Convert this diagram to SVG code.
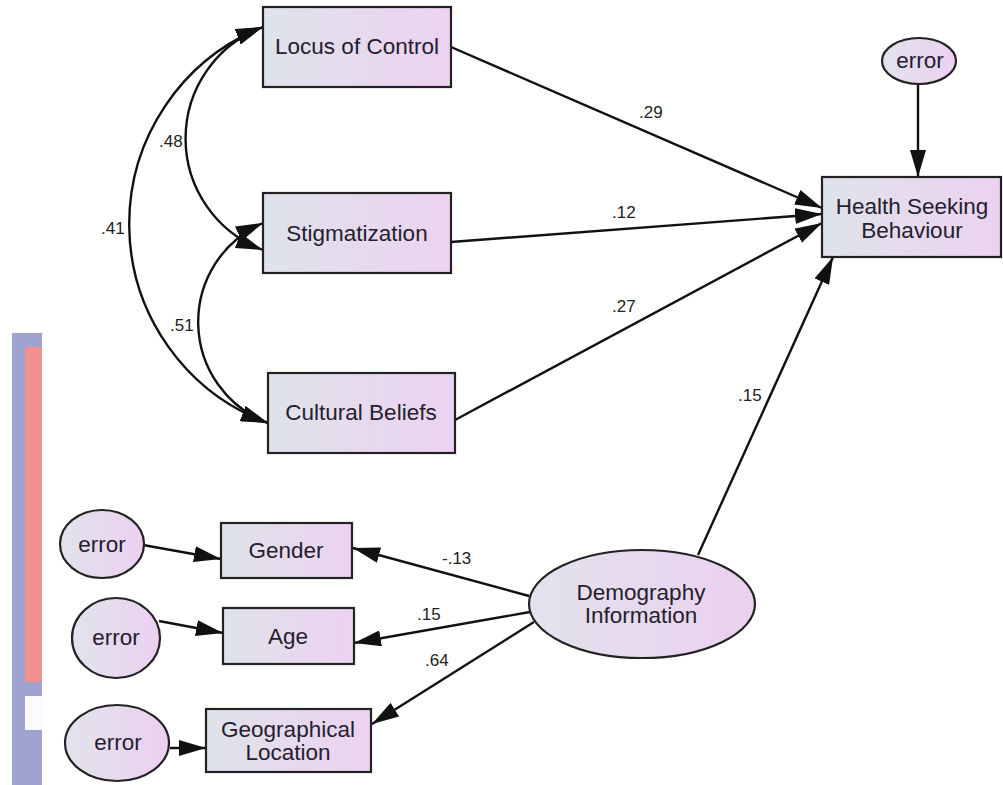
<svg xmlns="http://www.w3.org/2000/svg" width="1003" height="785" viewBox="0 0 1003 785">
<style>
.box{fill:url(#gb);stroke:#222;stroke-width:2.2}
.ell{fill:url(#ge);stroke:#222;stroke-width:2.2}
.lbl{font-family:"Liberation Sans",Arial,sans-serif;font-size:22.5px;fill:#24202e;text-anchor:middle}
.num{font-family:"Liberation Sans",Arial,sans-serif;font-size:17px;fill:#222}
.con path,.con line{fill:none;stroke:#111;stroke-width:2.4}
.arr{marker-end:url(#ah)}
.dbl{marker-start:url(#ah);marker-end:url(#ah)}
</style>
<defs>
<linearGradient id="gb" x1="0" y1="0" x2="1" y2="0">
<stop offset="0" stop-color="#dfe3ea"/>
<stop offset="1" stop-color="#ecd2f1"/>
</linearGradient>
<linearGradient id="ge" x1="0" y1="0" x2="1" y2="0">
<stop offset="0" stop-color="#e1e3ec"/>
<stop offset="1" stop-color="#ecd0f0"/>
</linearGradient>
<marker id="ah" markerUnits="userSpaceOnUse" markerWidth="28" markerHeight="16" refX="27" refY="8" orient="auto-start-reverse">
<path d="M0,0 L27,8 L0,16 Z" fill="#111"/>
</marker>
</defs>
<rect width="1003" height="785" fill="#fff"/>
<g id="background-strip">
<rect x="12" y="333" width="30" height="452" fill="#a0a3d0"/>
<rect x="25" y="347" width="17" height="335" fill="#f2918f"/>
<rect x="25" y="696" width="17" height="34" fill="#fbfbff"/>
</g>
<g id="connectors" class="con">
<path class="dbl" d="M263,27 A212,212 0 0 0 268,423"/>
<path class="dbl" d="M263,27 A119,119 0 0 0 263,250"/>
<path class="dbl" d="M263,223 A108,108 0 0 0 268,423"/>
<line class="arr" x1="451" y1="47" x2="822" y2="208"/>
<line class="arr" x1="451" y1="242" x2="822" y2="214"/>
<line class="arr" x1="455" y1="420" x2="822" y2="223"/>
<line class="arr" x1="698" y1="555" x2="833" y2="257"/>
<line class="arr" x1="918" y1="84" x2="918" y2="177"/>
<line class="arr" x1="529" y1="596" x2="353" y2="548"/>
<line class="arr" x1="530" y1="612" x2="354" y2="643"/>
<line class="arr" x1="534" y1="622" x2="372" y2="724"/>
<line class="arr" x1="143" y1="545" x2="221" y2="559"/>
<line class="arr" x1="159" y1="621" x2="223" y2="633"/>
<line class="arr" x1="170" y1="748" x2="206" y2="748"/>
<text class="num" x="159" y="147">.48</text>
<text class="num" x="101" y="234">.41</text>
<text class="num" x="170" y="331">.51</text>
<text class="num" x="639" y="118">.29</text>
<text class="num" x="612" y="218">.12</text>
<text class="num" x="612" y="312">.27</text>
<text class="num" x="738" y="401">.15</text>
<text class="num" x="442" y="564">-.13</text>
<text class="num" x="417" y="620">.15</text>
<text class="num" x="425" y="666">.64</text>
</g>
<g id="locus-of-control">
<rect class="box" x="263" y="7" width="188" height="80"/>
<text class="lbl" x="357" y="54">Locus of Control</text>
</g>
<g id="stigmatization">
<rect class="box" x="263" y="193" width="188" height="80"/>
<text class="lbl" x="357" y="241">Stigmatization</text>
</g>
<g id="cultural-beliefs">
<rect class="box" x="268" y="373" width="187" height="80"/>
<text class="lbl" x="361" y="420">Cultural Beliefs</text>
</g>
<g id="health-seeking-behaviour">
<rect class="box" x="822" y="177" width="179" height="80"/>
<text class="lbl" x="912" y="214">Health Seeking</text>
<text class="lbl" x="912" y="238">Behaviour</text>
</g>
<g id="error-hsb">
<ellipse class="ell" cx="919" cy="61" rx="37" ry="23"/>
<text class="lbl" x="920" y="68">error</text>
</g>
<g id="gender">
<rect class="box" x="221" y="523" width="131" height="55"/>
<text class="lbl" x="286" y="558">Gender</text>
</g>
<g id="age">
<rect class="box" x="223" y="608" width="131" height="56"/>
<text class="lbl" x="288" y="644">Age</text>
</g>
<g id="geographical-location">
<rect class="box" x="206" y="709" width="165" height="63"/>
<text class="lbl" x="288" y="737">Geographical</text>
<text class="lbl" x="288" y="760">Location</text>
</g>
<g id="error-gender">
<ellipse class="ell" cx="102" cy="544" rx="42" ry="34"/>
<text class="lbl" x="102" y="552">error</text>
</g>
<g id="error-age">
<ellipse class="ell" cx="116" cy="638" rx="44" ry="40"/>
<text class="lbl" x="116" y="645">error</text>
</g>
<g id="error-location">
<ellipse class="ell" cx="117" cy="743" rx="52" ry="38"/>
<text class="lbl" x="118" y="750">error</text>
</g>
<g id="demography-information">
<ellipse class="ell" cx="642" cy="604" rx="113" ry="54"/>
<text class="lbl" x="641" y="600">Demography</text>
<text class="lbl" x="641" y="623">Information</text>
</g>
</svg>
